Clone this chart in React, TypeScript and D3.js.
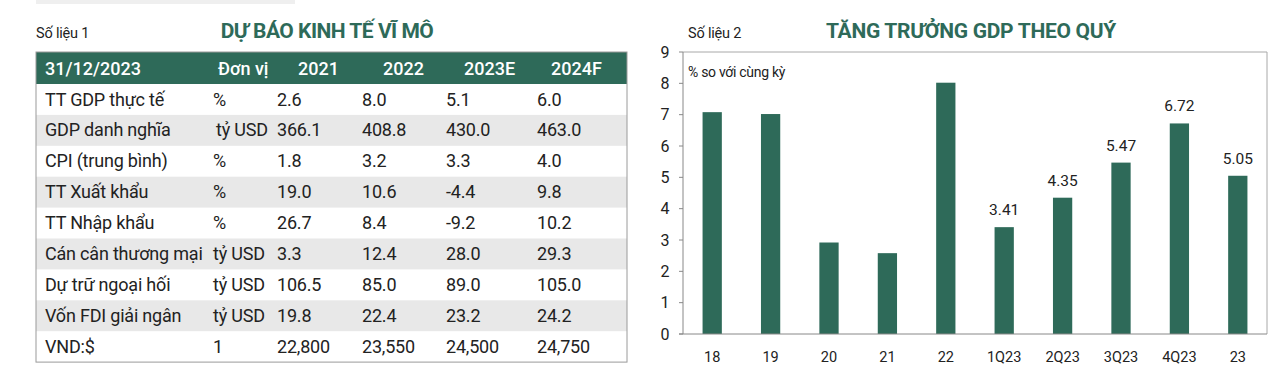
import React from "react";
import * as d3 from "d3";

// ---------- Table data ----------
const tableHeader = ["31/12/2023", "Đơn vị", "2021", "2022", "2023E", "2024F"];
const rowLabels = [
  "TT GDP thực tế",
  "GDP danh nghĩa",
  "CPI (trung bình)",
  "TT Xuất khẩu",
  "TT Nhập khẩu",
  "Cán cân thương mại",
  "Dự trữ ngoại hối",
  "Vốn FDI giải ngân",
  "VND:$",
];
const rowUnits = ["%", "tỷ USD", "%", "%", "%", "tỷ USD", "tỷ USD", "tỷ USD", "1"];
const val2021 = ["2.6", "366.1", "1.8", "19.0", "26.7", "3.3", "106.5", "19.8", "22,800"];
const val2022 = ["8.0", "408.8", "3.2", "10.6", "8.4", "12.4", "85.0", "22.4", "23,550"];
const val2023E = ["5.1", "430.0", "3.3", "-4.4", "-9.2", "28.0", "89.0", "23.2", "24,500"];
const val2024F = ["6.0", "463.0", "4.0", "9.8", "10.2", "29.3", "105.0", "24.2", "24,750"];

// ---------- Chart data ----------
const categories = ["18", "19", "20", "21", "22", "1Q23", "2Q23", "3Q23", "4Q23", "23"];
const gdpValues = [7.08, 7.02, 2.92, 2.58, 8.02, 3.41, 4.35, 5.47, 6.72, 5.05];
const showLabel = [false, false, false, false, false, true, true, true, true, true];
const yTicks = [0, 1, 2, 3, 4, 5, 6, 7, 8, 9];

const GREEN = "#2e6a59";
const FONT = "Roboto, 'Noto Sans', sans-serif";
const TEXT = "#222";

export default function App() {
  // table geometry
  const tLeft = 36, tRight = 627, tTop = 52, headH = 32, rowH = 30.9;
  const headX = [45, 218, 298, 383, 464, 551];
  const cellX = [45, 213, 277, 362, 446, 537];
  const unitXOverride: Record<number, number> = { 1: 216 };
  const cols = [rowUnits, val2021, val2022, val2023E, val2024F];
  const tBottom = tTop + headH + rowH * rowLabels.length;

  // chart geometry
  const pLeft = 683, pRight = 1267, pTop = 52, pBottom = 334;
  const x = d3.scaleBand<string>().domain(categories).range([pLeft, pRight]).paddingInner(0.67).paddingOuter(0.335);
  const y = d3.scaleLinear().domain([0, 9]).range([pBottom, pTop]);
  const fmt = d3.format(".2f");

  return (
    <svg
      width={1280}
      height={379}
      style={{ position: "absolute", left: 0, top: 0, background: "#fff" }}
      fontFamily={FONT}
    >
      {/* top gray strip */}
      <rect x={36} y={0} width={259} height={4} fill="#efefef" />

      {/* ---------- Left: table ---------- */}
      <text x={36} y={38} fontSize={14.5} fill={TEXT} letterSpacing={-0.2}>Số liệu 1</text>
      <text x={327} y={38} fontSize={21} fontWeight={700} fill={GREEN} textAnchor="middle" letterSpacing={-0.5}>
        DỰ BÁO KINH TẾ VĨ MÔ
      </text>

      <rect x={tLeft} y={tTop} width={tRight - tLeft} height={headH} fill={GREEN} />
      {tableHeader.map((h, i) => (
        <text key={h} x={headX[i]} y={tTop + 23} fontSize={18} fontWeight={500} fill="#fff">
          {h}
        </text>
      ))}
      {rowLabels.map((lab, r) => {
        const ry = tTop + headH + r * rowH;
        return (
          <g key={lab}>
            {r % 2 === 1 && <rect x={tLeft} y={ry} width={tRight - tLeft} height={rowH} fill="#e8e8e8" />}
            <text x={cellX[0]} y={ry + 21.5} fontSize={18} fill={TEXT} letterSpacing={-0.2}>{lab}</text>
            {cols.map((c, ci) => (
              <text
                key={ci}
                x={ci === 0 && unitXOverride[r] !== undefined ? unitXOverride[r] : cellX[ci + 1]}
                y={ry + 21.5}
                fontSize={18}
                fill={TEXT}
                letterSpacing={-0.2}
              >
                {c[r]}
              </text>
            ))}
          </g>
        );
      })}
      <rect x={tLeft} y={tTop} width={tRight - tLeft} height={tBottom - tTop} fill="none" stroke="#9a9a9a" strokeWidth={1} />

      {/* ---------- Right: bar chart ---------- */}
      <text x={688} y={38} fontSize={14.5} fill={TEXT} letterSpacing={-0.2}>Số liệu 2</text>
      <text x={971} y={38} fontSize={21} fontWeight={700} fill={GREEN} textAnchor="middle" letterSpacing={-0.3}>
        TĂNG TRƯỞNG GDP THEO QUÝ
      </text>

      {/* frame top/right */}
      <line x1={pLeft} x2={pRight} y1={pTop} y2={pTop} stroke="#a8a8a8" />
      <line x1={pRight} x2={pRight} y1={pTop} y2={pBottom} stroke="#a8a8a8" />

      {/* bars */}
      {categories.map((c, i) => (
        <rect
          key={c}
          x={x(c)}
          y={y(gdpValues[i])}
          width={x.bandwidth()}
          height={y(0) - y(gdpValues[i])}
          fill={GREEN}
        />
      ))}
      {categories.map((c, i) =>
        showLabel[i] ? (
          <text
            key={"l" + c}
            x={(x(c) as number) + x.bandwidth() / 2}
            y={y(gdpValues[i]) - 12}
            fontSize={15.5}
            fill={TEXT}
            textAnchor="middle"
          >
            {fmt(gdpValues[i])}
          </text>
        ) : null
      )}

      {/* y axis */}
      <line x1={pLeft} x2={pLeft} y1={pTop} y2={pBottom} stroke="#888" />
      {yTicks.map((t) => (
        <g key={t}>
          <line x1={pLeft - 4} x2={pLeft} y1={y(t)} y2={y(t)} stroke="#888" />
          <text x={665} y={y(t) + 5.5} fontSize={16} fill={TEXT} textAnchor="middle">{t}</text>
        </g>
      ))}
      {/* x axis */}
      <line x1={pLeft - 4} x2={pRight} y1={pBottom} y2={pBottom} stroke="#888" />
      {categories.map((c) => (
        <text key={"x" + c} x={(x(c) as number) + x.bandwidth() / 2} y={362} fontSize={14.5} fill={TEXT} textAnchor="middle">
          {c}
        </text>
      ))}

      <text x={688} y={77} fontSize={14} fill={TEXT} letterSpacing={-0.3}>% so với cùng kỳ</text>
    </svg>
  );
}
